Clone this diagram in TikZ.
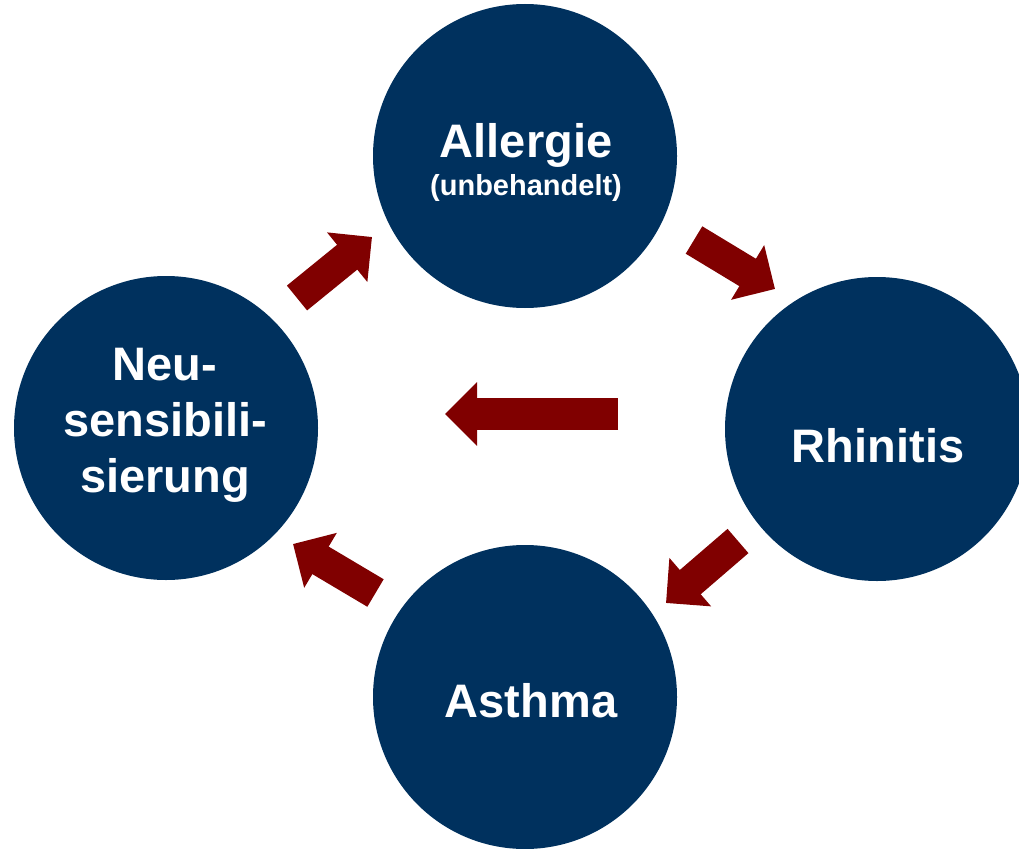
\documentclass[tikz,border=0pt]{standalone}
\usepackage{fontspec}
\setmainfont{Liberation Sans}
\usepackage{xcolor}
\usepackage{tikz}
\usetikzlibrary{arrows.meta}
\definecolor{navy}{RGB}{0,49,94}
\definecolor{darkred}{RGB}{128,0,0}

\begin{document}
\begin{tikzpicture}[
  x=1pt, y=-1pt,
  bubble/.style={circle,fill=navy,minimum size=304pt,inner sep=0pt},
  stagetext/.style={text=white,font=\bfseries\fontsize{47}{56}\selectfont,align=center,inner sep=0pt},
  flow/.style={draw=darkred,line width=32pt,-{Triangle[width=62pt,length=32pt]}}
]
  \useasboundingbox (0,0) rectangle (1019,848);

  \node[bubble] (allergie) at (525,156) {};
  \node[bubble] (rhinitis) at (877,429) {};
  \node[bubble] (asthma) at (525,697) {};
  \node[bubble] (neu) at (166,428) {};

  \node[stagetext,anchor=base] (allergieT) at (526,157) {Allergie};
  \node[stagetext,anchor=base,font=\bfseries\fontsize{29}{34}\selectfont] (allergieS) at (526,195) {(unbehandelt)};
  \node[stagetext,anchor=base] (rhinitisT) at (878,462) {Rhinitis};
  \node[stagetext,anchor=base] (asthmaT) at (531,717) {Asthma};
  \node[stagetext,anchor=north] (neuT) at (165,348) {Neu-\\sensibili-\\sierung};

  \coordinate (a1s) at (297,298);   \coordinate (a1e) at (372,237);
  \coordinate (a2s) at (694,240);   \coordinate (a2e) at (775,289);
  \coordinate (a3s) at (738,541);   \coordinate (a3e) at (666,603);
  \coordinate (a4s) at (375.5,593); \coordinate (a4e) at (293,544);
  \coordinate (a5s) at (618,414);   \coordinate (a5e) at (445,414);

  \draw[flow] (a1s) -- (a1e);
  \draw[flow] (a2s) -- (a2e);
  \draw[flow] (a3s) -- (a3e);
  \draw[flow] (a4s) -- (a4e);
  \draw[flow] (a5s) -- (a5e);
\end{tikzpicture}
\end{document}
